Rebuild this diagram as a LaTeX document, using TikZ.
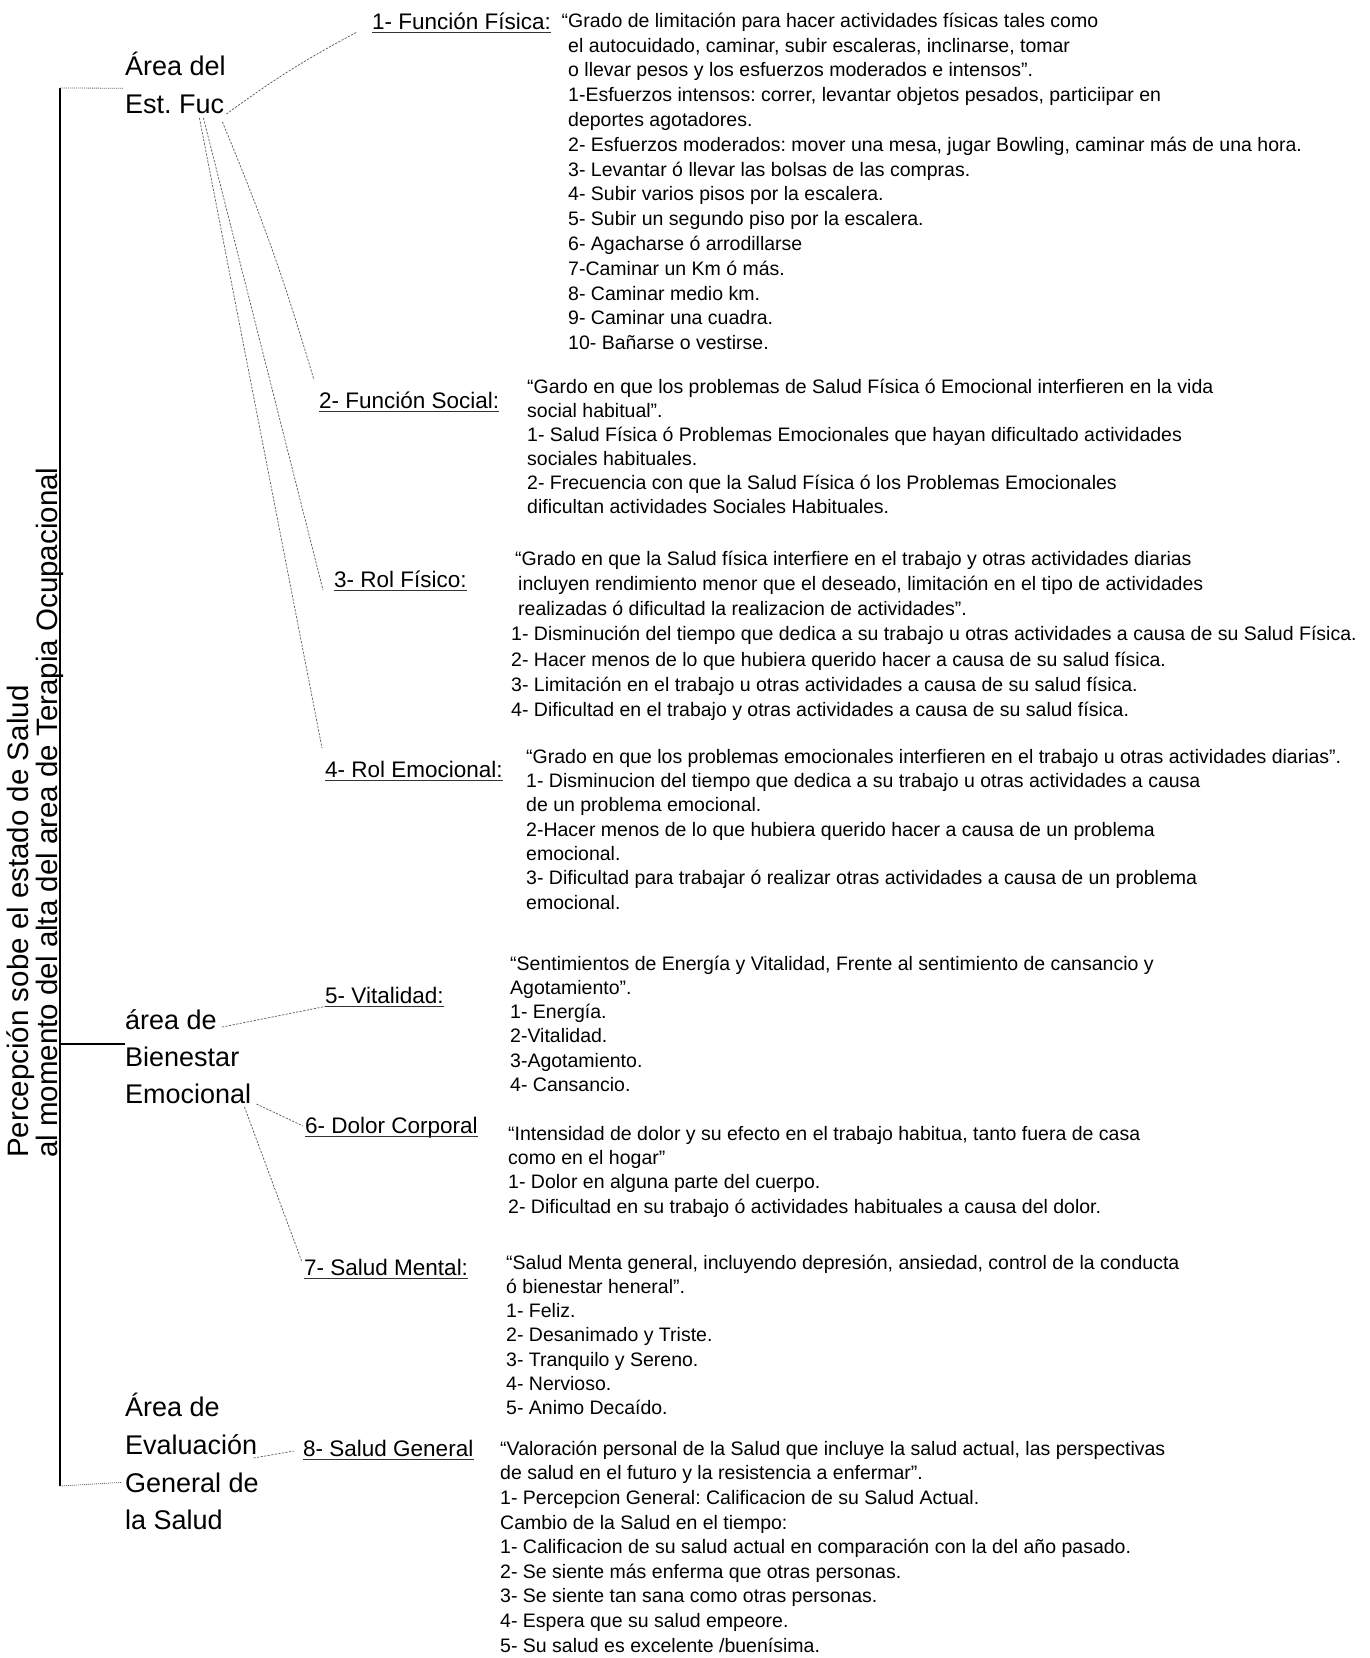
\documentclass[tikz,border=0pt]{standalone}
\usepackage{fontspec}
\setmainfont{Liberation Sans}
\usetikzlibrary{calc}
\frenchspacing
\tikzset{
  area/.style={font=\fontsize{27}{37}\selectfont, anchor=base west, inner sep=0pt},
  rot/.style={font=\fontsize{29.5}{30}\selectfont, anchor=base west, inner sep=0pt, rotate=90},
  lbl/.style={font=\fontsize{22.5}{27}\selectfont, anchor=base west, inner sep=0pt},
  body/.style={font=\fontsize{19.5}{#1}\selectfont\frenchspacing, anchor=north west, inner sep=0pt, align=left},
  body/.default=24.5,
  conn/.style={draw=black!65, line width=0.7pt, dash pattern=on 2.2pt off 1.4pt},
  dot/.style={draw=black!60, line width=0.8pt, dash pattern=on 1pt off 1pt},
  trunk/.style={draw=black, line width=1.8pt},
  ul/.style={draw=black!80, line width=1.1pt},
}
\newcommand{\fs}{\rule{0pt}{18pt}}
\begin{document}
\begin{tikzpicture}[x=1pt,y=-1pt]
\useasboundingbox[fill=white] (0,0) rectangle (1369,1658);

% rotated title
\node[rot] (t1) at (28,1158) {Percepción sobe el estado de Salud};
\node[rot] (t2) at (57,1158) {al momento del alta del area de Terapia Ocupacional};

% area labels
\node[area] (fuc1) at (125,75) {Área del};
\node[area] (fuc2) at (125,113) {Est. Fuc};
\node[area] (bie1) at (125,1029) {área de};
\node[area] (bie2) at (125,1066) {Bienestar};
\node[area] (bie3) at (125,1103) {Emocional};
\node[area] (eva1) at (125,1416) {Área de};
\node[area] (eva2) at (125,1454) {Evaluación};
\node[area] (eva3) at (125,1492) {General de};
\node[area] (eva4) at (125,1529) {la Salud};

% trunk
\coordinate (ttop) at (60,88);
\coordinate (tbot) at (60,1486);
\coordinate (tmid) at (60,1044);
\draw[trunk] (ttop) -- (tbot);
\draw[trunk] (tmid) -- (bie2.north west |- tmid);
\draw[dot] (ttop) -- ($(fuc2.north west)+(-2,-6)$);
\draw[dot] (tbot) -- ($(eva3.west)+(-3,0)$);

% item labels
\node[lbl] (l1) at (372,29) {1- Función Física:};
\node[lbl] (l2) at (319,408) {2- Función Social:};
\node[lbl] (l3) at (334,587) {3- Rol Físico:};
\node[lbl] (l4) at (325,777) {4- Rol Emocional:};
\node[lbl] (l5) at (325,1003) {5- Vitalidad:};
\node[lbl] (l6) at (305,1133) {6- Dolor Corporal};
\node[lbl] (l7) at (304,1275) {7- Salud Mental:};
\node[lbl] (l8) at (303,1456) {8- Salud General};
\foreach \n in {l1,l2,l3,l4,l5,l6,l7,l8}{
  \draw[ul] ($(\n.base west)+(0,3.5)$) -- ($(\n.base east)+(0,3.5)$);
}

% connectors
\draw[conn] ($(fuc2.base east)+(2,1)$) to[bend left=4] ($(l1.base west)+(-15,3)$);
\draw[conn] ($(fuc2.base east)+(-2,9)$) to[bend left=3] ($(l2.base west)+(-5,-28)$);
\draw[conn] ($(fuc2.base east)+(-21,5)$) -- ($(l3.base west)+(-11,3)$);
\draw[conn] ($(fuc2.base east)+(-25,5)$) -- ($(l4.base west)+(-3,-29)$);
\draw[conn] ($(bie1.base east)+(5,-2)$) -- ($(l5.base west)+(0,3.5)$);
\draw[conn] ($(bie3.base east)+(5,1)$) -- ($(l6.base west)+(-2,-7)$);
\draw[conn] ($(bie3.base east)+(-7,4)$) -- ($(l7.base west)+(-2,-13)$);
\draw[conn] ($(eva2.base east)+(-4,4)$) -- ($(l8.base west)+(-9,-5)$);

% bodies
\node[body=24.8] (b1) at (568,9) {\fs\llap{“}Grado de limitación para hacer actividades físicas tales como\\
el autocuidado, caminar, subir escaleras, inclinarse, tomar\\
o llevar pesos y los esfuerzos moderados e intensos”.\\
1-Esfuerzos intensos: correr, levantar objetos pesados, particiipar en\\
deportes agotadores.\\
2- Esfuerzos moderados: mover una mesa, jugar Bowling, caminar más de una hora.\\
3- Levantar ó llevar las bolsas de las compras.\\
4- Subir varios pisos por la escalera.\\
5- Subir un segundo piso por la escalera.\\
6- Agacharse ó arrodillarse\\
7-Caminar un Km ó más.\\
8- Caminar medio km.\\
9- Caminar una cuadra.\\
10- Bañarse o vestirse.};

\node[body=24] (b2) at (527,375) {\fs“Gardo en que los problemas de Salud Física ó Emocional interfieren en la vida\\
social habitual”.\\
1- Salud Física ó Problemas Emocionales que hayan dificultado actividades\\
sociales habituales.\\
2- Frecuencia con que la Salud Física ó los Problemas Emocionales\\
dificultan actividades Sociales Habituales.};

\node[body=25.2] (b3) at (511,547) {\fs\hspace*{4pt}“Grado en que la Salud física interfiere en el trabajo y otras actividades diarias\\
\hspace*{7pt}incluyen rendimiento menor que el deseado, limitación en el tipo de actividades\\
\hspace*{7pt}realizadas ó dificultad la realizacion de actividades”.\\
1- Disminución del tiempo que dedica a su trabajo u otras actividades a causa de su Salud Física.\\
2- Hacer menos de lo que hubiera querido hacer a causa de su salud física.\\
3- Limitación en el trabajo u otras actividades a causa de su salud física.\\
4- Dificultad en el trabajo y otras actividades a causa de su salud física.};

\node[body=24.3] (b4) at (526,745) {\fs“Grado en que los problemas emocionales interfieren en el trabajo u otras actividades diarias”.\\
1- Disminucion del tiempo que dedica a su trabajo u otras actividades a causa\\
de un problema emocional.\\
2-Hacer menos de lo que hubiera querido hacer a causa de un problema\\
emocional.\\
3- Dificultad para trabajar ó realizar otras actividades a causa de un problema\\
emocional.};

\node[body=24.2] (b5) at (510,952) {\fs“Sentimientos de Energía y Vitalidad, Frente al sentimiento de cansancio y\\
Agotamiento”.\\
1- Energía.\\
2-Vitalidad.\\
3-Agotamiento.\\
4- Cansancio.};

\node[body=24.3] (b6) at (508,1122) {\fs“Intensidad de dolor y su efecto en el trabajo habitua, tanto fuera de casa\\
como en el hogar”\\
1- Dolor en alguna parte del cuerpo.\\
2- Dificultad en su trabajo ó actividades habituales a causa del dolor.};

\node[body=24.2] (b7) at (506,1251) {\fs“Salud Menta general, incluyendo depresión, ansiedad, control de la conducta\\
ó bienestar heneral”.\\
1- Feliz.\\
2- Desanimado y Triste.\\
3- Tranquilo y Sereno.\\
4- Nervioso.\\
5- Animo Decaído.};

\node[body=24.6] (b8) at (500,1437) {\fs“Valoración personal de la Salud que incluye la salud actual, las perspectivas\\
de salud en el futuro y la resistencia a enfermar”.\\
1- Percepcion General: Calificacion de su Salud Actual.\\
Cambio de la Salud en el tiempo:\\
1- Calificacion de su salud actual en comparación con la del año pasado.\\
2- Se siente más enferma que otras personas.\\
3- Se siente tan sana como otras personas.\\
4- Espera que su salud empeore.\\
5- Su salud es excelente /buenísima.};
\end{tikzpicture}
\end{document}
